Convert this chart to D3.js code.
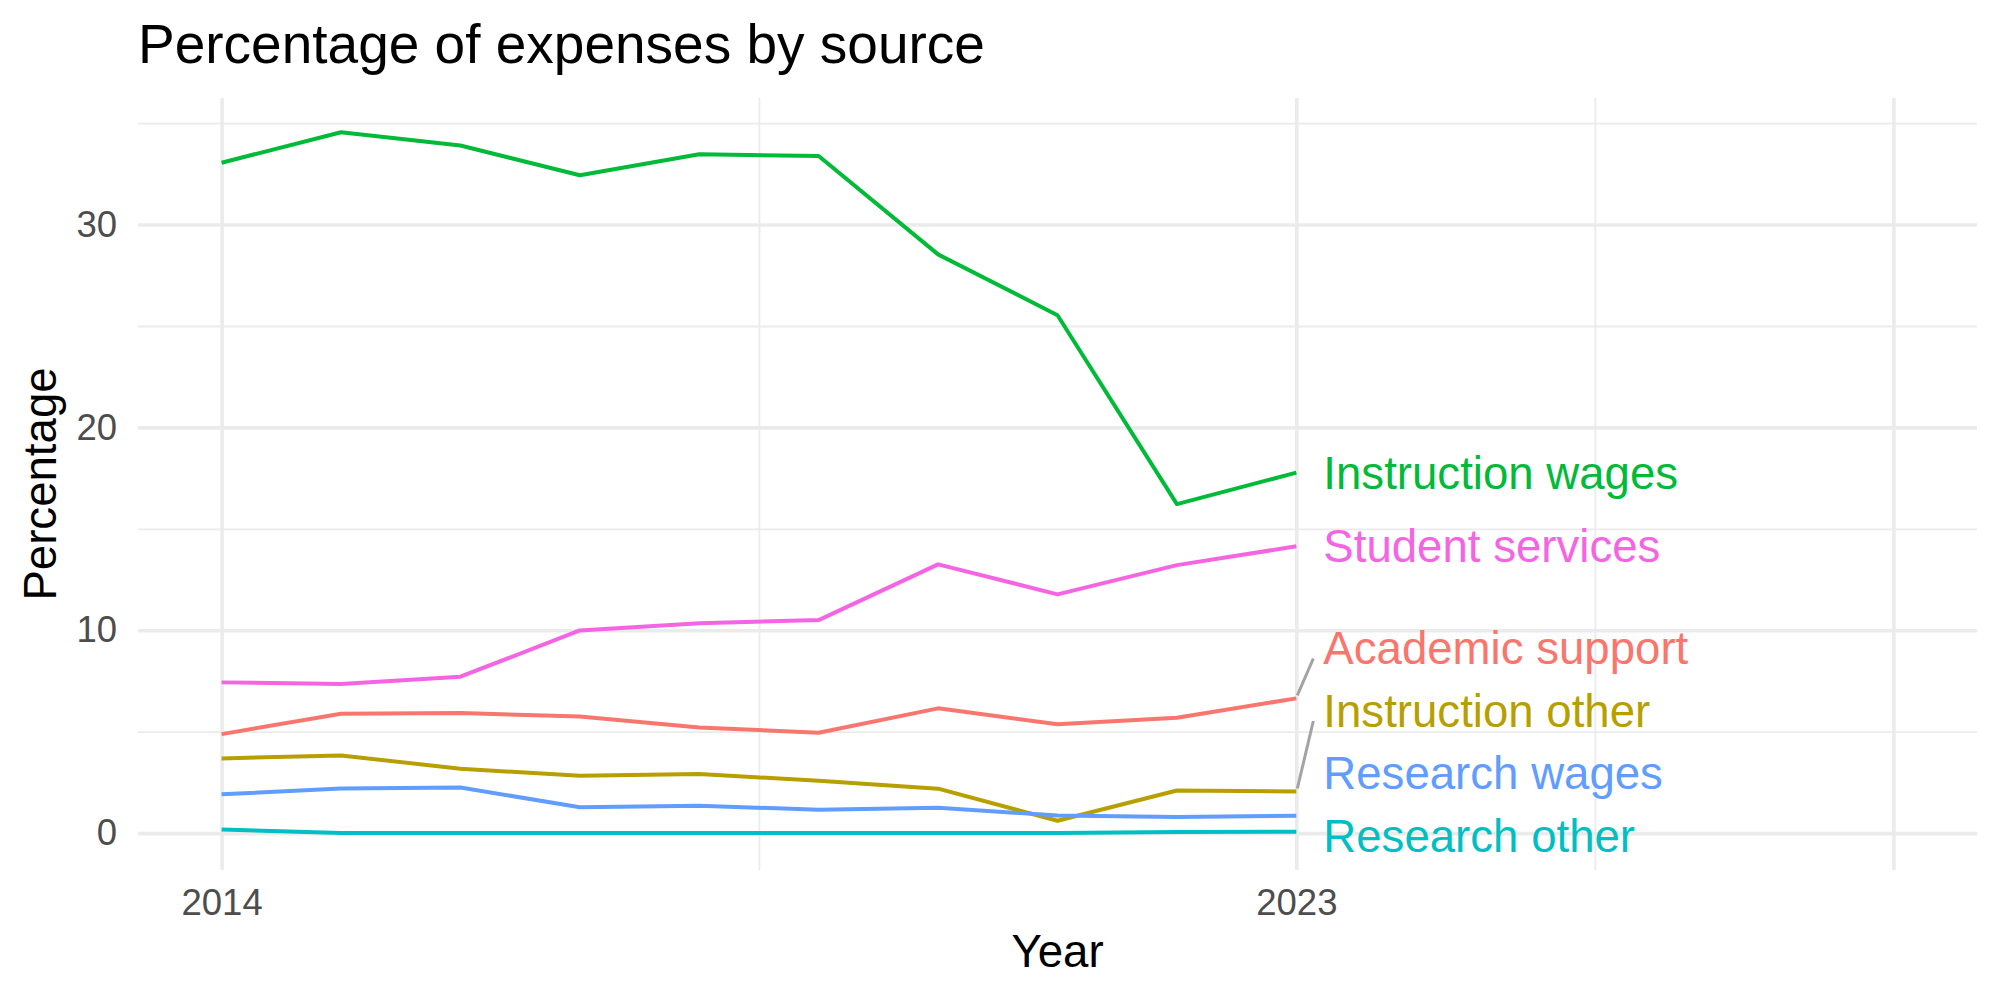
<!DOCTYPE html>
<html>

<head>
    <style>
        body {
            margin: 0;
            background: white;
        }

        svg {
            font-family: "Liberation Sans", Arial, sans-serif;
            background: white;
        }

        .grid line {
            stroke: #ebebeb;
        }

        .grid path {
            display: none;
        }

        .axis text {
            fill: #4d4d4d;
            font-size: 36.5px;
        }

        .line {
            fill: none;
            stroke-width: 4px;
            stroke-linejoin: round;
        }
    </style>
    <script src="https://cdn.jsdelivr.net/npm/d3@7"></script>
    <title>Percentage of expenses by source</title>
</head>

<body>
    <div id="chart"></div>
</body>

</html>

<script>
    var years = [2014, 2015, 2016, 2017, 2018, 2019, 2020, 2021, 2022, 2023];

    var academicSupport = [4.88, 5.88, 5.92, 5.75, 5.21, 4.95, 6.15, 5.37, 5.69, 6.64];
    var instructionOther = [3.68, 3.83, 3.17, 2.83, 2.91, 2.58, 2.19, 0.61, 2.10, 2.05];
    var instructionWages = [33.05, 34.55, 33.90, 32.43, 33.47, 33.38, 28.53, 25.53, 16.22, 17.77];
    var researchOther = [0.18, 0.00, 0.00, 0.00, 0.00, 0.00, 0.00, 0.01, 0.05, 0.07];
    var researchWages = [1.91, 2.20, 2.25, 1.27, 1.35, 1.15, 1.25, 0.87, 0.79, 0.85];
    var studentServices = [7.43, 7.35, 7.71, 9.99, 10.35, 10.50, 13.25, 11.77, 13.21, 14.14];

    var seriesNames = ["Academic support", "Instruction other", "Instruction wages",
        "Research other", "Research wages", "Student services"];
    var seriesValues = [academicSupport, instructionOther, instructionWages,
        researchOther, researchWages, studentServices];
    var colors = ["#F8766D", "#B79F00", "#00BA38", "#00BFC4", "#619CFF", "#F564E3"];

    var xMajor = [2014, 2023, 2028];
    var xLabels = ["2014", "2023", ""];
    var xMinor = [2018.5, 2025.5];
    var yMajor = [0, 10, 20, 30];
    var yMinor = [5, 15, 25, 35];

    var margin = { top: 98, right: 23, bottom: 130, left: 138 },
        width = 2000 - margin.left - margin.right,
        height = 1000 - margin.top - margin.bottom;

    var x = d3.scaleLinear()
        .domain([2013.3, 2028.7])
        .range([0, width]);

    var y = d3.scaleLinear()
        .domain([-1.82, 36.24])
        .range([height, 0]);

    var root = d3.select("#chart").append("svg")
        .attr("width", 2000)
        .attr("height", 1000);

    var svg = root.append("g")
        .attr("transform", "translate(" + margin.left + "," + margin.top + ")");

    // minor grid first, then major grid with tick labels
    svg.append("g")
        .attr("class", "grid")
        .call(d3.axisLeft(y).tickValues(yMinor).tickSize(-width).tickFormat(""))
        .selectAll("line").attr("stroke-width", 1.8);

    svg.append("g")
        .attr("class", "grid")
        .attr("transform", "translate(0," + height + ")")
        .call(d3.axisBottom(x).tickValues(xMinor).tickSize(-height).tickFormat(""))
        .selectAll("line").attr("stroke-width", 1.8);

    var yAx = svg.append("g")
        .attr("class", "grid axis")
        .call(d3.axisLeft(y).tickValues(yMajor).tickSize(-width).tickPadding(21));
    yAx.selectAll("line").attr("stroke-width", 3.6);
    yAx.selectAll("text").attr("font-family", null).attr("font-size", null);

    var xAx = svg.append("g")
        .attr("class", "grid axis")
        .attr("transform", "translate(0," + height + ")")
        .call(d3.axisBottom(x).tickValues(xMajor).tickSize(-height).tickPadding(19)
            .tickFormat(function (d, i) { return xLabels[i]; }));
    xAx.selectAll("line").attr("stroke-width", 3.6);
    xAx.selectAll("text").attr("font-family", null).attr("font-size", null);

    var line = d3.line()
        .x(function (d, i) { return x(years[i]); })
        .y(function (d) { return y(d); });

    svg.selectAll(".line")
        .data(seriesValues)
        .enter().append("path")
        .attr("class", "line")
        .attr("stroke", function (d, i) { return colors[i]; })
        .attr("d", line);

    // simple repel of the end labels (like ggrepel, kept inside the panel)
    var gap = 62.5, bottomPad = 34;
    var labels = seriesNames.map(function (name, i) {
        var v = seriesValues[i][years.length - 1];
        return { name: name, color: colors[i], py: y(v), ly: y(v) };
    });
    labels.sort(function (a, b) { return b.py - a.py; });
    for (var k = 0; k < 500; k++) {
        for (var j = 0; j < labels.length - 1; j++) {
            var d = labels[j].ly - labels[j + 1].ly;
            if (d < gap) {
                var push = (gap - d) / 2;
                labels[j].ly += push;
                labels[j + 1].ly -= push;
            }
        }
        labels.forEach(function (l) {
            l.ly = Math.min(l.ly, height - bottomPad);
        });
    }

    var xEnd = x(years[years.length - 1]);
    var labelX = xEnd + 27;

    labels.forEach(function (l) {
        var sx = labelX - 10, sy = l.ly + 10;
        if (Math.hypot(sx - xEnd, sy - l.py) > 40) {
            svg.append("line")
                .attr("x1", xEnd + 1).attr("y1", l.py - 3)
                .attr("x2", sx).attr("y2", sy)
                .attr("stroke", "#a3a3a3")
                .attr("stroke-width", 3);
        }
    });

    svg.selectAll(".lab")
        .data(labels)
        .enter().append("text")
        .attr("class", "lab")
        .attr("x", labelX)
        .attr("y", function (d) { return d.ly; })
        .attr("dy", "0.35em")
        .attr("fill", function (d) { return d.color; })
        .attr("font-size", "45.6px")
        .text(function (d) { return d.name; });

    // titles
    root.append("text")
        .attr("x", margin.left)
        .attr("y", 63)
        .attr("font-size", "55px")
        .attr("fill", "black")
        .text("Percentage of expenses by source");

    root.append("text")
        .attr("x", margin.left + width / 2)
        .attr("y", 967)
        .attr("text-anchor", "middle")
        .attr("font-size", "45.6px")
        .attr("fill", "black")
        .text("Year");

    root.append("text")
        .attr("transform", "translate(56," + (margin.top + height / 2) + ") rotate(-90)")
        .attr("text-anchor", "middle")
        .attr("font-size", "45.6px")
        .attr("fill", "black")
        .text("Percentage");
</script>
